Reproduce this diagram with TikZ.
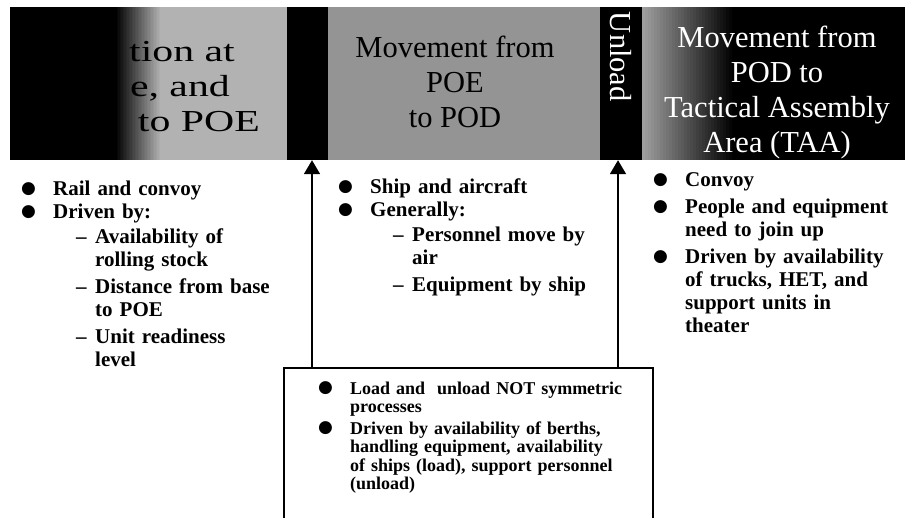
\documentclass[tikz,border=0pt]{standalone}
\usepackage{fontspec}
\setmainfont{Liberation Serif}
\newfontfamily\dotfont{DejaVu Sans}
\usepackage{graphicx}
\usetikzlibrary{arrows.meta,positioning}

\definecolor{poegray}{gray}{0.70}
\definecolor{podgray}{gray}{0.58}
\definecolor{taagray}{gray}{0.62}

\newcommand\bdot{\makebox[32pt][l]{\raisebox{2pt}{\fontsize{17}{17}\dotfont ●}}}
\newcommand\bcont{\hspace*{32pt}}
\newcommand\sdash{\hspace*{55pt}\makebox[19pt][l]{--}}
\newcommand\scont{\hspace*{74pt}}
\newcommand\wide[1]{\scalebox{1.37}[1]{#1}}

\tikzset{
  banner/.style={font=\fontsize{30.5}{35}\selectfont,inner sep=0pt,align=center},
  bullets/.style={font=\bfseries\fontsize{21}{23}\selectfont,inner sep=0pt,anchor=north west,text width=300pt,align=left},
  band/.style={fill=black,inner sep=0pt,minimum width=41pt,minimum height=153pt},
  uparrow/.style={line width=1.8pt,-{Triangle[width=16pt,length=14pt]}},
}

\begin{document}
\begin{tikzpicture}[x=1pt,y=-1pt]
  \useasboundingbox (0,0) rectangle (908,518);
  \clip (0,0) rectangle (908,518);
  % banner
  \fill[black] (10,7) rectangle (905,160);
  \foreach \i [evaluate=\i as \p using 100*\i/30] in {0,...,30}
    \fill[poegray!\p!black] ({115+1.5*\i},7) rectangle ({116.8+1.5*\i},160);
  \foreach \i [evaluate=\i as \p using 100*\i/30] in {0,...,30}
    \fill[black!\p!taagray] ({642+3*\i},7) rectangle ({645.3+3*\i},160);
  \fill[poegray] (160,7) rectangle (287,160);
  \fill[podgray] (328,7) rectangle (600,160);
  \node[band] (loadband) at (307.5,83.5) {};
  \node[band,minimum width=42pt] (unloadband) at (621,83.5) {};

  \node[banner,anchor=base east] (poel1) at (235,62) {\wide{tion at}};
  \node[banner,anchor=base east] (poel2) at (230,97) {\wide{e, and}};
  \node[banner,anchor=base east] (poel3) at (260,132) {\wide{to POE}};
  \node[banner,anchor=north] (podtxt) at (455,36) {Movement from\\POE\\to POD};
  \node[banner,anchor=north,text=white] (taatxt) at (777,26) {Movement from\\POD to\\Tactical Assembly\\Area (TAA)};
  \node[banner,text=white,rotate=-90,anchor=west] (unloadtxt) at ([yshift=-5pt]unloadband.north) {Unload};

  % lists under the banner
  \node[bullets] (poelist) at (21,181) {\bdot Rail and convoy\\
    \bdot Driven by:\\[2pt]
    \sdash Availability of\\
    \scont rolling stock\\[4pt]
    \sdash Distance from base\\
    \scont to POE\\[4pt]
    \sdash Unit readiness\\
    \scont level};
  \node[bullets] (podlist) at (338,179) {\bdot Ship and aircraft\\
    \bdot Generally:\\[2pt]
    \sdash Personnel move by\\
    \scont air\\[4pt]
    \sdash Equipment by ship};
  \node[bullets] (taalist) at (653,172) {\bdot Convoy\\[4pt]
    \bdot People and equipment\\
    \bcont need to join up\\[4pt]
    \bdot Driven by availability\\
    \bcont of trucks, HET, and\\
    \bcont support units in\\
    \bcont theater};

  % load / unload box
  \node[draw,line width=1.8pt,minimum width=369pt,minimum height=180pt,anchor=north west,inner sep=0pt] (load) at (283,367) {};
  \node[bullets,text width=345pt,font=\bfseries\fontsize{18}{18.5}\selectfont] (loadtxt) at ([shift={(35,14)}]load.north west) {\bdot Load and\ \ unload NOT symmetric\\
    \bcont processes\\[3pt]
    \bdot Driven by availability of berths,\\
    \bcont handling equipment, availability\\
    \bcont of ships (load), support personnel\\
    \bcont (unload)};

  \coordinate (loadtip) at ([xshift=4.5pt]loadband.south);
  \coordinate (unloadtip) at ([xshift=-3pt]unloadband.south);
  \draw[uparrow] (load.north -| loadtip) -- (loadtip);
  \draw[uparrow] (load.north -| unloadtip) -- (unloadtip);
\end{tikzpicture}
\end{document}
